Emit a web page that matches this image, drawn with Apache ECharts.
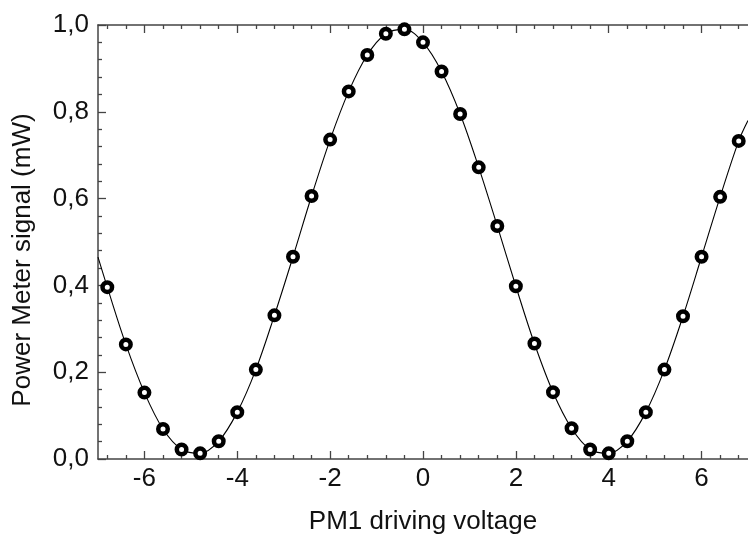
<!DOCTYPE html>
<html>
<head>
<meta charset="utf-8">
<script src="https://cdn.jsdelivr.net/npm/echarts@6/dist/echarts.min.js"></script>
<style>html,body{margin:0;padding:0;background:#fff}#c{width:748px;height:540px}</style>
</head>
<body>
<div id="c"></div>
<script>
// Measured points (PM1 driving voltage, Power Meter signal in mW)
const voltage = [-6.8,-6.4,-6.0,-5.6,-5.2,-4.8,-4.4,-4.0,-3.6,-3.2,-2.8,-2.4,-2.0,-1.6,-1.2,-0.8,-0.4,0.0,0.4,0.8,1.2,1.6,2.0,2.4,2.8,3.2,3.6,4.0,4.4,4.8,5.2,5.6,6.0,6.4,6.8];
const signal  = [0.396,0.264,0.153,0.069,0.022,0.013,0.041,0.108,0.206,0.331,0.466,0.606,0.736,0.847,0.931,0.980,0.990,0.960,0.893,0.795,0.672,0.537,0.398,0.266,0.154,0.071,0.022,0.013,0.041,0.108,0.206,0.329,0.466,0.604,0.733];
// Fitted curve: endpoints at the axis edges
const fitStartX = -7.0, fitStartY = 0.465;
const fitEndX = 7.0, fitEndY = 0.78;
// Tick labels
const xMajorTicks = [-6,-4,-2,0,2,4,6];
const xMinorTicks = [-6.8,-6.4,-5.6,-5.2,-4.8,-4.4,-3.6,-3.2,-2.8,-2.4,-1.6,-1.2,-0.8,-0.4,0.4,0.8,1.2,1.6,2.4,2.8,3.2,3.6,4.4,4.8,5.2,5.6,6.4,6.8];
const yTicks = [0,0.2,0.4,0.6,0.8,1.0];

const points = voltage.map((v,i)=>[v, signal[i]]);
const fitLine = [[fitStartX, fitStartY]].concat(points).concat([[fitEndX, fitEndY]]);

const axisCol = '#444';
const txt = {color:'#111', fontFamily:'Liberation Sans, Arial, sans-serif', fontSize:26};

function xAx(pos, ticks, len, showLine, showLabel){
  return {
    type:'value', position:pos, min:-7, max:7, gridIndex:0,
    axisLine:{show:showLine, onZero:false, lineStyle:{color:axisCol, width:1.5}},
    axisTick:{show:true, inside:true, length:len, customValues:ticks, lineStyle:{color:axisCol, width:1.3}},
    axisLabel:{show:showLabel, customValues:ticks, margin:7, ...txt},
    splitLine:{show:false}
  };
}

const xAxes = [
  Object.assign(xAx('bottom', xMajorTicks, 8, true, true), {
    name:'PM1 driving voltage', nameLocation:'middle', nameGap:50, nameTextStyle:{...txt}
  }),
  xAx('bottom', xMinorTicks, 4, false, false),
  xAx('top', xMajorTicks, 8, true, false),
  xAx('top', xMinorTicks, 4, false, false)
];

const chart = echarts.init(document.getElementById('c'), null, {renderer:'canvas'});
chart.setOption({
  animation:false,
  backgroundColor:'#fff',
  grid:{left:98, top:25, right:-8, bottom:71, containLabel:false},
  xAxis: xAxes,
  yAxis:{
    type:'value', position:'left', min:yTicks[0], max:yTicks[yTicks.length-1], interval:0.2,
    axisLine:{show:true, onZero:false, lineStyle:{color:axisCol, width:1.5}},
    axisTick:{show:true, inside:true, length:8, lineStyle:{color:axisCol, width:1.3}},
    minorTick:{show:true, splitNumber:5, length:4, lineStyle:{color:axisCol, width:1.3}},
    axisLabel:{margin:9, ...txt, formatter:v=>v.toFixed(1).replace('.',',')},
    splitLine:{show:false},
    name:'Power Meter signal (mW)', nameLocation:'middle', nameGap:62,
    nameTextStyle:{...txt, padding:[0,36,0,0]}
  },
  series:[
    {type:'line', data:fitLine, xAxisIndex:0, smooth:0.35, showSymbol:false, symbol:'none',
     lineStyle:{color:'#000', width:1.1}, clip:true, z:2},
    {type:'scatter', data:points, xAxisIndex:0, symbol:'circle', symbolSize:9.5,
     itemStyle:{color:'#fff', borderColor:'#000', borderWidth:4.5, opacity:1}, z:3}
  ]
});
</script>
</body>
</html>
